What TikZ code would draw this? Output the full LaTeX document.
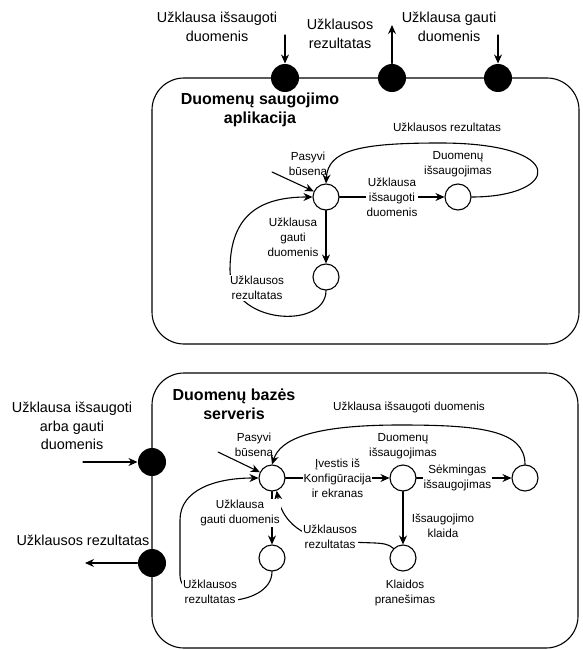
\documentclass[tikz,border=0pt]{standalone}
\usepackage{fontspec}
\setmainfont{Liberation Sans}
\usetikzlibrary{arrows.meta}

\begin{document}
\begin{tikzpicture}[x=1pt, y=-1pt, line cap=round, line join=round, line width=1.1pt, >={Stealth[length=9pt,width=8pt]}]
	\tikzset{
		busena/.style={circle, draw, fill=white, minimum size=26pt, inner sep=0pt},
		jungtis/.style={circle, fill=black, minimum size=28pt, inner sep=0pt},
		isorinis/.style={align=center, font=\fontsize{14.4}{18.5}\selectfont},
		zyme/.style={align=center, font=\fontsize{11.7}{15}\selectfont, inner sep=1pt},
		zymefonas/.style={zyme, fill=white},
		antraste/.style={align=center, font=\fontsize{16}{19}\selectfont\bfseries},
		blokas/.style={draw, rounded corners=32pt}
	}
	\useasboundingbox (0,0) rectangle (582,650);
	
	% VIRŠUTINIS BLOKAS
	\draw[blokas] (152,78) rectangle (579,344);
	\node[antraste] (t1) at (260,110) {Duomenų saugojimo\\aplikacija};
	
	\node[jungtis] (j1) at (285,78) {};
	\node[jungtis] (j2) at (392,78) {};
	\node[jungtis] (j3) at (498,78) {};
	\coordinate (j1in) at (285,35);
	\coordinate (j2out) at (392,25);
	\coordinate (j3in) at (498,35);
	\draw[->] (j1in) -- (j1);
	\draw[->] (j2) -- (j2out);
	\draw[->] (j3in) -- (j3);
	\node[isorinis] (l1) at (217,27) {Užklausa išsaugoti\\duomenis};
	\node[isorinis] (l2) at (340,34) {Užklausos\\rezultatas};
	\node[isorinis] (l3) at (449,27) {Užklausa gauti\\duomenis};
	
	% Būsenos viršuje
	\node[busena] (p1) at (326,197) {};
	\node[busena] (s1) at (458,197) {};
	\node[busena] (g1) at (326,277) {};
	\node[zyme] (p1l) at (308,164) {Pasyvi\\būsena};
	\node[zyme] (s1l) at (458,164) {Duomenų\\išsaugojimas};
	\coordinate (p1start) at (272,172);
	\draw[->] (p1start) -- (p1);
	\draw[->] (p1) -- node[zymefonas] {Užklausa\\išsaugoti\\duomenis} (s1);
	\draw[->] (s1.east) .. controls (560,197) and (570,143) .. (440,143) .. controls (360,143) and (328,150) .. (p1.north);
	\node[zyme] (u1l) at (447,127) {Užklausos rezultatas};
	\draw[->] (p1) -- (g1);
	\node[zyme] (g1l) at (293,237) {Užklausa\\gauti\\duomenis};
	\draw[->] (g1.south) .. controls (326,330) and (230,325) .. (230,270) .. controls (230,215) and (260,197) .. (p1.west);
	\node[zymefonas] (r1l) at (257,288) {Užklausos\\rezultatas};
	
	% APATINIS BLOKAS
	\draw[blokas] (152,373) rectangle (578,648);
	\node[antraste] (t2) at (234,404) {Duomenų bazės\\serveris};
	
	\node[jungtis] (j4) at (152,462) {};
	\node[jungtis] (j5) at (152,563) {};
	\coordinate (j4in) at (83,462);
	\coordinate (j5out) at (85,563);
	\draw[->] (j4in) -- (j4);
	\draw[->] (j5) -- (j5out);
	\node[isorinis] (l4) at (72,426) {Užklausa išsaugoti\\arba gauti\\duomenis};
	\node[isorinis] (l5) at (83,540) {Užklausos rezultatas};
	
	% Būsenos apačioje
	\node[busena] (p2) at (272,478) {};
	\node[busena] (s2) at (403,478) {};
	\node[busena] (k2) at (525,478) {};
	\node[busena] (e2) at (403,558) {};
	\node[busena] (g2) at (272,558) {};
	\node[zyme] (p2l) at (254,445) {Pasyvi\\būsena};
	\node[zyme] (s2l) at (403,446) {Duomenų\\išsaugojimas};
	\node[zyme] (e2l) at (405,593) {Klaidos\\pranešimas};
	\coordinate (p2start) at (218,452);
	\draw[->] (p2start) -- (p2);
	\draw[->] (p2) -- node[zymefonas] {Įvestis iš\\Konfigūracija\\ir ekranas} (s2);
	\draw[->] (s2) -- node[zymefonas, pos=0.43] {Sėkmingas\\išsaugojimas} (k2);
	\draw[->] (k2.north) .. controls (525,430) and (480,425) .. (400,425) .. controls (310,425) and (280,440) .. (p2.north);
	\node[zyme] (u2l) at (409,407) {Užklausa išsaugoti duomenis};
	\draw[->] (s2) -- (e2);
	\node[zyme] (i2l) at (443,526) {Išsaugojimo\\klaida};
	\draw[->] (e2.north west) .. controls (385,540) and (370,545) .. (330,540) .. controls (290,535) and (280,510) .. (p2.-70);
	\node[zymefonas] (r3l) at (330,537) {Užklausos\\rezultatas};
	\draw[->] (p2) -- (g2);
	\node[zymefonas] (g2l) at (240,513) {Užklausa\\gauti duomenis};
	\draw[->] (g2.south) .. controls (272,610) and (180,610) .. (180,575) -- (180,520) .. controls (180,490) and (215,478) .. (p2.west);
	\node[zymefonas] (r2l) at (210,592) {Užklausos\\rezultatas};
\end{tikzpicture}
\end{document}
